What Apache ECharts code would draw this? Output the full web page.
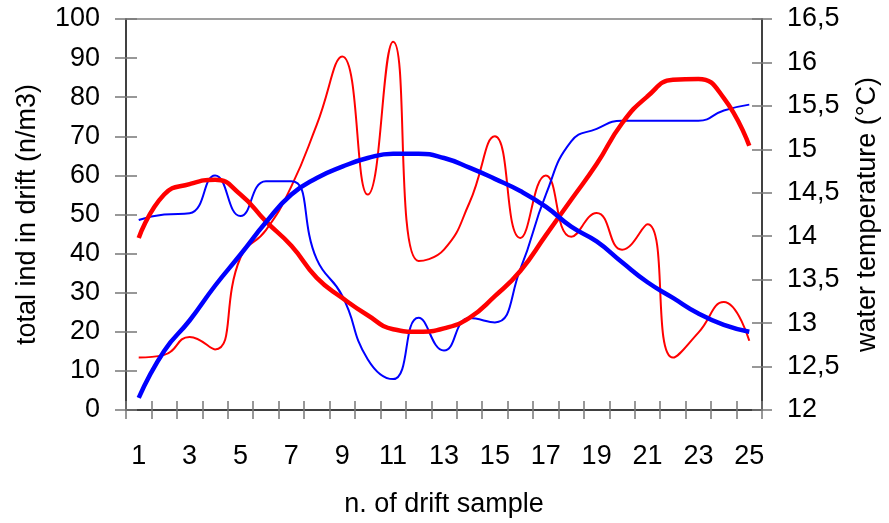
<!DOCTYPE html>
<html>
<head>
<meta charset="utf-8">
<title>drift vs temperature</title>
<script src="https://cdn.jsdelivr.net/npm/echarts@6/dist/echarts.min.js"></script>
<style>
  html, body { margin: 0; padding: 0; background: #fff; }
  #chart { width: 889px; height: 523px; }
</style>
</head>
<body>
<div id="chart"></div>
<script>
// x categories: drift sample number
const samples = ['1','2','3','4','5','6','7','8','9','10','11','12','13','14','15','16','17','18','19','20','21','22','23','24','25'];

// total ind in drift (n/m3), thin lines, left axis
const driftRed = [13.4, 14.1, 18.7, 15.5, 39, 46, 57.2, 73, 90.4, 55.1, 94.2, 38.1, 41, 53, 70, 44, 60, 44.3, 50.4, 41, 47.5, 13.4, 19.8, 27.6, 17.7];
const driftBlue = [48.6, 50, 50.3, 60, 49.6, 58.5, 58.5, 38.5, 29.2, 13, 7.9, 23.6, 15.2, 23.5, 22.4, 36, 55, 68.7, 71.9, 74, 74, 74, 74, 76.6, 78.1];

// water temperature (°C), thick lines, right axis
const tempRed = [13.98, 14.48, 14.60, 14.65, 14.48, 14.17, 13.89, 13.52, 13.29, 13.09, 12.93, 12.90, 12.94, 13.06, 13.31, 13.60, 14.01, 14.42, 14.83, 15.30, 15.61, 15.80, 15.81, 15.59, 15.04];
const tempBlue = [12.14, 12.68, 13.03, 13.43, 13.79, 14.16, 14.48, 14.67, 14.80, 14.90, 14.95, 14.95, 14.90, 14.79, 14.66, 14.52, 14.34, 14.11, 13.94, 13.70, 13.47, 13.29, 13.11, 12.98, 12.90];

// tick labels
const driftTicks = [0, 10, 20, 30, 40, 50, 60, 70, 80, 90, 100];
const tempTicks = ['12', '12,5', '13', '13,5', '14', '14,5', '15', '15,5', '16', '16,5'];

const FONT = "'Liberation Sans', Arial, sans-serif";
const AXIS_COLOR = '#222';
const TICK_COLOR = '#777';

const chart = echarts.init(document.getElementById('chart'));

// each axis is drawn twice so the ticks cross the axis line (outer + inner)
function xAxisOf(inside) {
    return {
        type: 'category',
        data: samples,
        position: 'bottom',
        boundaryGap: true,
        name: inside ? '' : 'n. of drift sample',
        nameLocation: 'middle',
        nameGap: 81,
        nameTextStyle: { color: '#000', fontSize: 27, fontFamily: FONT },
        axisLine: { show: !inside, lineStyle: { color: AXIS_COLOR, width: 1.5 } },
        axisTick: { show: true, inside: inside, interval: 0, length: 9, lineStyle: { color: TICK_COLOR, width: 1.5 } },
        axisLabel: { show: !inside, interval: 1, margin: 33, color: '#000', fontSize: 27, fontFamily: FONT },
        splitLine: { show: false }
    };
}

function leftAxisOf(inside) {
    return {
        type: 'value',
        position: 'left',
        min: driftTicks[0],
        max: driftTicks[driftTicks.length - 1],
        interval: 10,
        name: inside ? '' : 'total ind in drift (n/m3)',
        nameLocation: 'middle',
        nameGap: 85,
        nameTextStyle: { color: '#000', fontSize: 27, fontFamily: FONT },
        axisLine: { show: !inside, lineStyle: { color: AXIS_COLOR, width: 1.5 } },
        axisTick: { show: true, inside: inside, length: 11, lineStyle: { color: TICK_COLOR, width: 1.5 } },
        axisLabel: { show: !inside, margin: 26, color: '#000', fontSize: 27, fontFamily: FONT },
        splitLine: { show: false }
    };
}

function rightAxisOf(inside) {
    return {
        type: 'value',
        position: 'right',
        min: 12,
        max: 16.5,
        interval: 0.5,
        name: inside ? '' : 'water temperature (°C)',
        nameLocation: 'middle',
        nameGap: 92,
        nameTextStyle: { color: '#000', fontSize: 27, fontFamily: FONT },
        axisLine: { show: !inside, lineStyle: { color: AXIS_COLOR, width: 1.5 } },
        axisTick: { show: true, inside: inside, length: 10, lineStyle: { color: TICK_COLOR, width: 1.5 } },
        axisLabel: {
            show: !inside,
            margin: 25,
            color: '#000',
            fontSize: 27,
            fontFamily: FONT,
            formatter: function (v) {
                const idx = Math.round((v - 12) / 0.5);
                return tempTicks[idx] !== undefined ? tempTicks[idx] : '';
            }
        },
        splitLine: { show: false }
    };
}

function lineSeries(data, color, width, yIdx) {
    return {
        type: 'line',
        data: data,
        xAxisIndex: 0,
        yAxisIndex: yIdx,
        smooth: 0.5,
        showSymbol: false,
        symbol: 'none',
        lineStyle: { color: color, width: width },
        itemStyle: { color: color },
        z: width > 3 ? 3 : 2
    };
}

const option = {
    backgroundColor: '#ffffff',
    animation: false,
    textStyle: { fontFamily: FONT },
    grid: {
        left: 126,
        right: 123,
        top: 19,
        bottom: 112,
        show: true,
        borderColor: '#808080',
        borderWidth: 1.5,
        backgroundColor: 'transparent'
    },
    xAxis: [xAxisOf(false), xAxisOf(true)],
    yAxis: [leftAxisOf(false), leftAxisOf(true), rightAxisOf(false), rightAxisOf(true)],
    series: [
        lineSeries(driftRed, '#ff0000', 2, 0),
        lineSeries(driftBlue, '#0000ff', 2, 0),
        lineSeries(tempRed, '#ff0000', 4.5, 2),
        lineSeries(tempBlue, '#0000ff', 4.5, 2)
    ]
};

chart.setOption(option);

window.addEventListener('resize', () => {
    chart.resize();
});
</script>
</body>
</html>
